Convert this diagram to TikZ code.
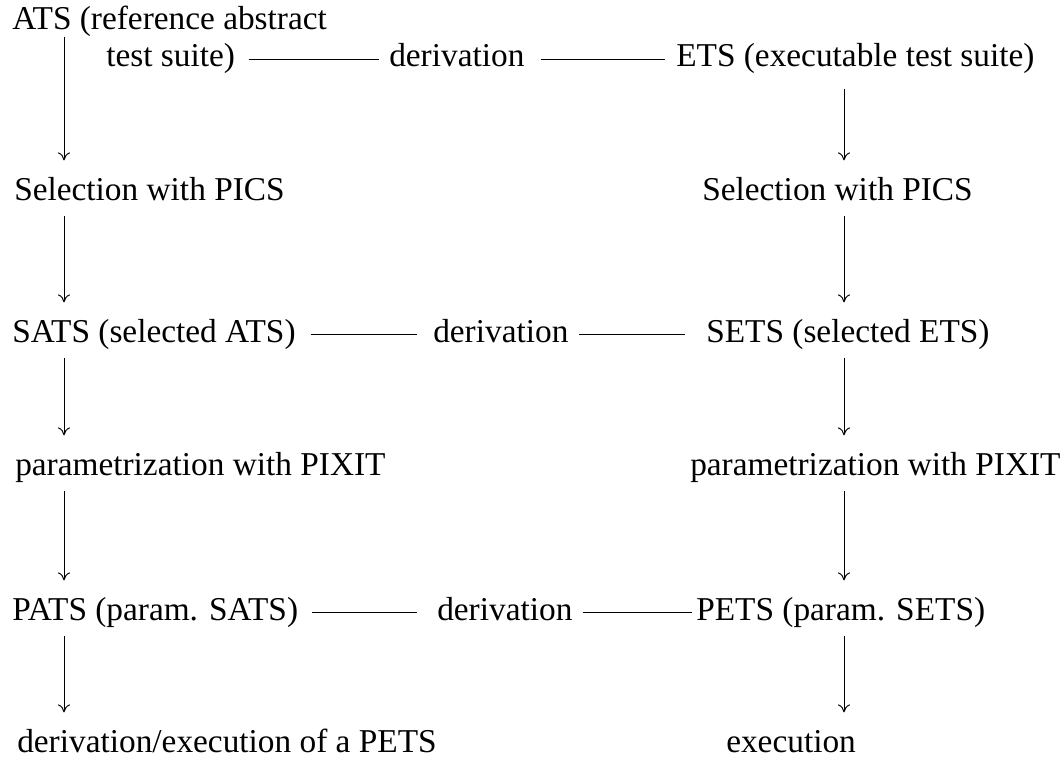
\documentclass[tikz,border=0pt]{standalone}
\usepackage{fontspec}
\setmainfont{Liberation Serif}
\usetikzlibrary{arrows.meta}
\begin{document}
\begin{tikzpicture}[x=0.75pt,y=-0.75pt,
    txt/.style={anchor=base west,inner sep=0pt,text height=16.5pt,text depth=5pt,
        font=\fontsize{25}{29}\selectfont},
    flow/.style={-{To[length=6pt,width=9pt]},line width=0.75pt,shorten <=7pt,shorten >=13pt},
    link/.style={line width=0.75pt}]
    \useasboundingbox (0,0) rectangle (1064,767);
    \coordinate (lx) at (64,0);
    \coordinate (rx) at (844,0);

    % abstract side
    \node [txt] (ats) at (12,30) {ATS (reference abstract};
    \node [txt] (atsb) at (106,67) {test suite)};
    \node [txt] (sela) at (14,200) {Selection with PICS};
    \node [txt] (sats) at (12,342) {SATS (selected ATS)};
    \node [txt] (para) at (15,475) {parametrization with PIXIT};
    \node [txt] (pats) at (12,620) {PATS (param. SATS)};
    \node [txt] (dexe) at (17,752) {derivation/execution of a PETS};

    % executable side
    \node [txt] (ets) at (676,67) {ETS (executable test suite)};
    \node [txt] (sele) at (702,200) {Selection with PICS};
    \node [txt] (sets) at (706,342) {SETS (selected ETS)};
    \node [txt] (pare) at (690,475) {parametrization with PIXIT};
    \node [txt] (pets) at (696,620) {PETS (param. SETS)};
    \node [txt] (exe) at (726,752) {execution};

    % derivations
    \node [txt] (der1) at (389,67) {derivation};
    \node [txt] (der2) at (433,342) {derivation};
    \node [txt] (der3) at (437,620) {derivation};

    \draw [link,shorten <=10pt,shorten >=7.5pt] (atsb) -- (der1);
    \draw [link,shorten <=12pt,shorten >=8pt] (der1) -- (ets);
    \draw [link,shorten <=11pt,shorten >=12pt] (sats) -- (der2);
    \draw [link,shorten <=8pt,shorten >=16pt] (der2) -- (sets);
    \draw [link,shorten <=10pt,shorten >=15pt] (pats) -- (der3);
    \draw [link,shorten <=7.5pt,shorten >=3pt] (der3) -- (pets);

    \draw [flow,shorten <=0pt] (ats.south -| lx) -- (sela.north -| lx);
    \draw [flow] (sela.south -| lx) -- (sats.north -| lx);
    \draw [flow] (sats.south -| lx) -- (para.north -| lx);
    \draw [flow] (para.south -| lx) -- (pats.north -| lx);
    \draw [flow] (pats.south -| lx) -- (dexe.north -| lx);

    \draw [flow,shorten <=11pt] (ets.south -| rx) -- (sele.north -| rx);
    \draw [flow] (sele.south -| rx) -- (sets.north -| rx);
    \draw [flow] (sets.south -| rx) -- (pare.north -| rx);
    \draw [flow] (pare.south -| rx) -- (pets.north -| rx);
    \draw [flow] (pets.south -| rx) -- (exe.north -| rx);
\end{tikzpicture}
\end{document}
